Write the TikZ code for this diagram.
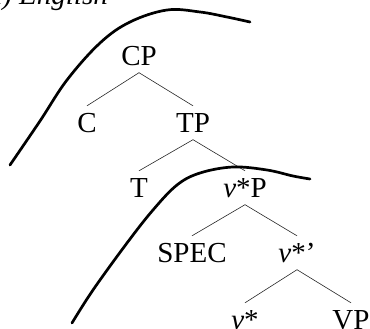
\documentclass[tikz,border=0pt]{standalone}
\usepackage{fontspec}
\setmainfont{Liberation Serif}
\begin{document}
\begin{tikzpicture}[x=1pt,y=1pt,
  lab/.style={inner sep=0pt, anchor=base, text height=19pt, text depth=0pt, font=\fontsize{29}{32}\selectfont},
  edge/.style={line width=0.6pt, draw=black!85},
  phase/.style={line width=2.7pt, line cap=round, line join=round}]
\useasboundingbox (0,0) rectangle (370,329);
\node[lab, anchor=base east, font=\fontsize{29}{32}\selectfont\itshape] (title) at (108,324) {a) English};
\node[lab] (CP) at (139,263) {CP};
\node[lab] (C) at (87,196) {C};
\node[lab] (TP) at (193,196) {TP};
\node[lab] (T) at (139,131) {T};
\node[lab] (vP) at (245,131) {\textit{v}*P};
\node[lab] (SPEC) at (192,66) {SPEC};
\node[lab] (vb) at (297,66) {\textit{v}*'};
\node[lab] (v) at (245,-1) {\textit{v}*};
\node[lab] (VP) at (351,-1) {VP};
\draw[edge] ([yshift=-6.5pt]CP.south) -- ([yshift=8pt]C.north);
\draw[edge] ([yshift=-6.5pt]CP.south) -- ([yshift=8pt]TP.north);
\draw[edge] ([yshift=-6.5pt]TP.south) -- ([yshift=8pt]T.north);
\draw[edge] ([yshift=-6.5pt]TP.south) -- ([yshift=8pt]vP.north);
\draw[edge] ([yshift=-6.5pt]vP.south) -- ([yshift=8pt]SPEC.north);
\draw[edge] ([yshift=-6.5pt]vP.south) -- ([yshift=8pt]vb.north);
\draw[edge] ([yshift=-6.5pt]vb.south) -- ([yshift=8pt]v.north);
\draw[edge] ([yshift=-6.5pt]vb.south) -- ([yshift=8pt]VP.north);
\draw[phase] plot[smooth, tension=0.6] coordinates {(10,164) (40,208) (67,249) (100,286) (130,307) (167,319) (200,317) (227,312) (250,307)};
\draw[phase] plot[smooth, tension=0.6] coordinates {(72,6) (93,39) (127,86) (153,119) (177,144) (200,156) (233,162) (267,159) (293,153) (310,150)};
\end{tikzpicture}
\end{document}
